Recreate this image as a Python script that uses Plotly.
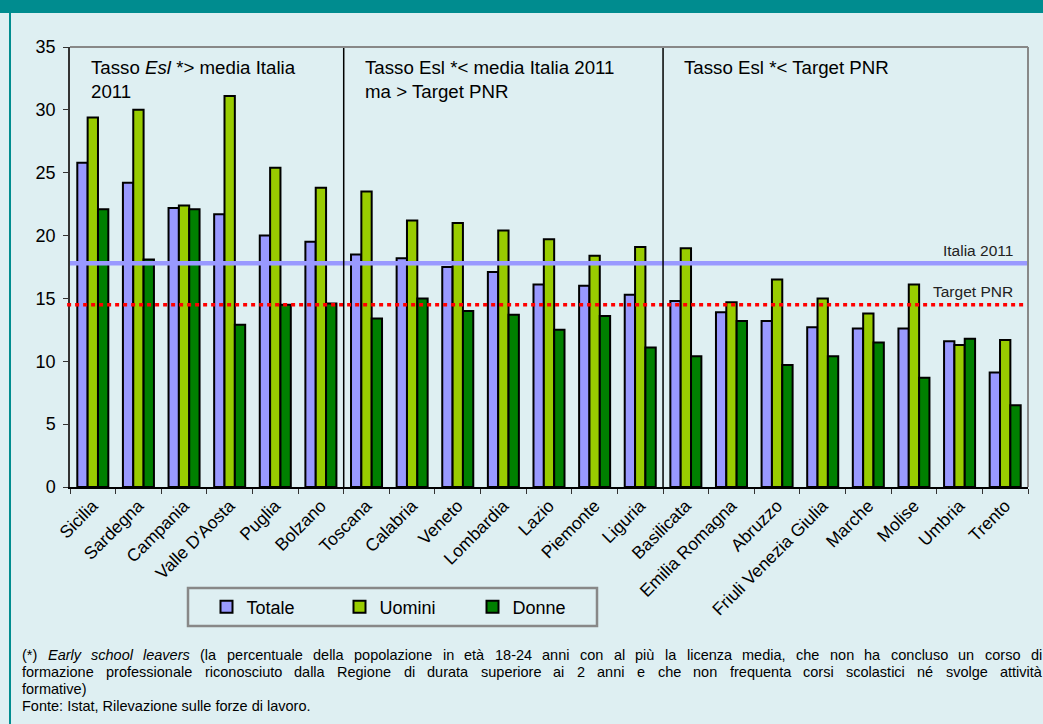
import plotly.graph_objects as go

# dati: tasso di early school leavers per regione (2011)
regioni = ['Sicilia', 'Sardegna', 'Campania', "Valle D'Aosta", 'Puglia', 'Bolzano',
           'Toscana', 'Calabria', 'Veneto', 'Lombardia', 'Lazio', 'Piemonte', 'Liguria',
           'Basilicata', 'Emilia Romagna', 'Abruzzo', 'Friuli Venezia Giulia', 'Marche',
           'Molise', 'Umbria', 'Trento']
totale = [25.8, 24.2, 22.2, 21.7, 20.0, 19.5, 18.5, 18.2, 17.5, 17.1, 16.1, 16.0, 15.3,
          14.8, 13.9, 13.2, 12.7, 12.6, 12.6, 11.6, 9.1]
uomini = [29.4, 30.0, 22.4, 31.1, 25.4, 23.8, 23.5, 21.2, 21.0, 20.4, 19.7, 18.4, 19.1,
          19.0, 14.7, 16.5, 15.0, 13.8, 16.1, 11.3, 11.7]
donne = [22.1, 18.1, 22.1, 12.9, 14.5, 14.6, 13.4, 15.0, 14.0, 13.7, 12.5, 13.6, 11.1,
         10.4, 13.2, 9.7, 10.4, 11.5, 8.7, 11.8, 6.5]

italia_2011 = 17.8
target_pnr = 14.5

# gruppi di regioni (prima regione di ogni gruppo)
gruppi_inizio = ['Sicilia', 'Toscana', 'Basilicata']
gruppi_testo = ['Tasso <i>Esl</i> *> media Italia<br>2011',
                'Tasso Esl *< media Italia 2011<br>ma > Target PNR',
                'Tasso Esl *< Target PNR']

# nota: (testo, giustificato)
note = [
    ('(*) <i>Early</i> <i>school</i> <i>leavers</i> (la percentuale della popolazione in età 18-24 anni con al più la licenza media, che non ha concluso un corso di', True),
    ('formazione professionale riconosciuto dalla Regione di durata superiore ai 2 anni e che non frequenta corsi scolastici né svolge attività', True),
    ('formative)', False),
    ('Fonte: Istat, Rilevazione sulle forze di lavoro.', False),
]

W, H = 1043, 724
L, R, T, B = 70, 15, 47, 237
pw, ph = W - L - R, H - T - B
bg = '#DEEFF2'
teal = '#008C8F'
font = 'Liberation Sans, Arial, sans-serif'
nota_size = 14.5

# larghezze approssimate dei caratteri Arial (1/1000 em) per la giustificazione
_w = {' ': 278, '(': 333, ')': 333, '*': 389, ',': 278, '-': 333, '.': 278, ':': 278}
_w.update({c: 556 for c in '0123456789'})
_w.update(dict(zip('abcdefghijklmnopqrstuvwxyz',
                   [556, 556, 500, 556, 556, 278, 556, 556, 222, 222, 500, 222, 833,
                    556, 556, 556, 556, 333, 500, 278, 556, 500, 722, 500, 500, 500])))
_w.update(dict(zip('ABCDEFGHIJKLMNOPQRSTUVWXYZ',
                   [667, 667, 722, 722, 667, 611, 778, 722, 278, 500, 667, 556, 833,
                    722, 778, 667, 778, 722, 667, 611, 722, 667, 944, 667, 667, 611])))
_w.update({'à': 556, 'è': 556, 'é': 556, 'ù': 556, 'ò': 556, 'ì': 278})


def larghezza(parola):
    p = parola.replace('<i>', '').replace('</i>', '')
    return sum(_w.get(c, 556) for c in p) * nota_size / 1000


fig = go.Figure()
for nome, vals, col in [('Totale', totale, '#9999FF'),
                        ('Uomini', uomini, '#99CC00'),
                        ('Donne', donne, '#008000')]:
    fig.add_trace(go.Bar(x=regioni, y=vals, name=nome, marker_color=col,
                         marker_line=dict(color='black', width=2)))

shapes = []
# linee orizzontali di riferimento
shapes.append(dict(type='line', xref='paper', yref='y', x0=0, x1=1,
                   y0=italia_2011, y1=italia_2011, layer='above',
                   line=dict(color='#9999FF', width=4.5)))
shapes.append(dict(type='line', xref='paper', yref='y', x0=-0.003, x1=0.997,
                   y0=target_pnr, y1=target_pnr, layer='above',
                   line=dict(color='#FF0000', width=3.5, dash='4px,4px')))
# separatori tra i gruppi
for g in gruppi_inizio[1:]:
    xs = regioni.index(g) - 0.5
    shapes.append(dict(type='line', xref='x', yref='y', x0=xs, x1=xs, y0=0, y1=35,
                       line=dict(color='black', width=1.5)))
# bordo superiore e destro dell'area del grafico
shapes.append(dict(type='line', xref='paper', yref='paper', x0=0, x1=1, y0=1, y1=1,
                   line=dict(color='#888888', width=2)))
shapes.append(dict(type='line', xref='paper', yref='paper', x0=1, x1=1, y0=0, y1=1,
                   line=dict(color='#888888', width=2)))
# fascia in alto e bordo sinistro
shapes.append(dict(type='rect', xref='paper', yref='paper', x0=-L / pw, x1=(W - L) / pw,
                   y0=(H - B) / ph, y1=(H - B - 13) / ph, fillcolor=teal,
                   line=dict(width=0), layer='below'))
shapes.append(dict(type='line', xref='paper', yref='paper', x0=(10 - L) / pw, x1=(10 - L) / pw,
                   y0=(H - B - 13) / ph, y1=(H - B - H) / ph,
                   line=dict(color=teal, width=2)))
# cornice della legenda
shapes.append(dict(type='rect', xref='paper', yref='paper', x0=(188 - L) / pw, x1=(597 - L) / pw,
                   y0=(H - B - 588) / ph, y1=(H - B - 626) / ph,
                   line=dict(color='#888888', width=2.5)))

ann = []
for g, txt in zip(gruppi_inizio, gruppi_testo):
    ann.append(dict(x=regioni.index(g) - 0.5, y=35, xref='x', yref='y', text=txt,
                    showarrow=False, xanchor='left', yanchor='top', align='left',
                    xshift=19, yshift=-8, font=dict(size=18.7, color='black', family=font)))
ann.append(dict(x=0.986, y=italia_2011, xref='paper', yref='y', text='Italia 2011',
                showarrow=False, xanchor='right', yanchor='bottom', yshift=2,
                font=dict(size=15.5, color='#222222', family=font)))
ann.append(dict(x=0.986, y=target_pnr, xref='paper', yref='y', text='Target PNR',
                showarrow=False, xanchor='right', yanchor='bottom', yshift=3,
                font=dict(size=15.5, color='#222222', family=font)))

# note a piè di pagina (righe giustificate posizionando le singole parole)
x_sx, x_dx = 20, 1040
for i, (riga, giust) in enumerate(note):
    ypix = 655 + 17 * i
    yp = (H - B - ypix) / ph
    if giust:
        parole = riga.split(' ')
        tot = sum(larghezza(p) for p in parole)
        gap = (x_dx - x_sx - tot) / (len(parole) - 1)
        xc = x_sx
        for p in parole:
            ann.append(dict(x=(xc - L) / pw, y=yp, xref='paper', yref='paper', text=p,
                            showarrow=False, xanchor='left', yanchor='middle',
                            font=dict(size=nota_size, color='black', family=font)))
            xc += larghezza(p) + gap
    else:
        ann.append(dict(x=(x_sx - L) / pw, y=yp, xref='paper', yref='paper', text=riga,
                        showarrow=False, xanchor='left', yanchor='middle',
                        font=dict(size=nota_size, color='black', family=font)))

fig.update_layout(
    width=W, height=H,
    margin=dict(l=L, r=R, t=T, b=B),
    paper_bgcolor=bg, plot_bgcolor=bg,
    barmode='group', bargap=0.32, bargroupgap=0,
    font=dict(family=font, color='black'),
    shapes=shapes, annotations=ann,
    xaxis=dict(type='category', tickangle=-45, tickson='boundaries', ticks='outside',
               ticklen=5, tickcolor='#333333', showline=True, linecolor='black',
               linewidth=1.5, tickfont=dict(size=17.5), showgrid=False, automargin=False),
    yaxis=dict(range=[0, 35], dtick=5, ticks='outside', ticklen=5, tickcolor='#333333',
               showline=True, linecolor='#333333', linewidth=1.5, showgrid=False,
               zeroline=False, tickfont=dict(size=18), ticklabelstandoff=4, automargin=False),
    legend=dict(orientation='h', x=(406 - L) / pw, xanchor='center',
                y=(H - B - 607) / ph, yanchor='middle', bgcolor='rgba(0,0,0,0)',
                borderwidth=0, font=dict(size=18),
                entrywidth=88, itemclick=False),
)

fig.write_html('out.html', config={'displayModeBar': False},
               post_script="document.body.style.margin='0';")
